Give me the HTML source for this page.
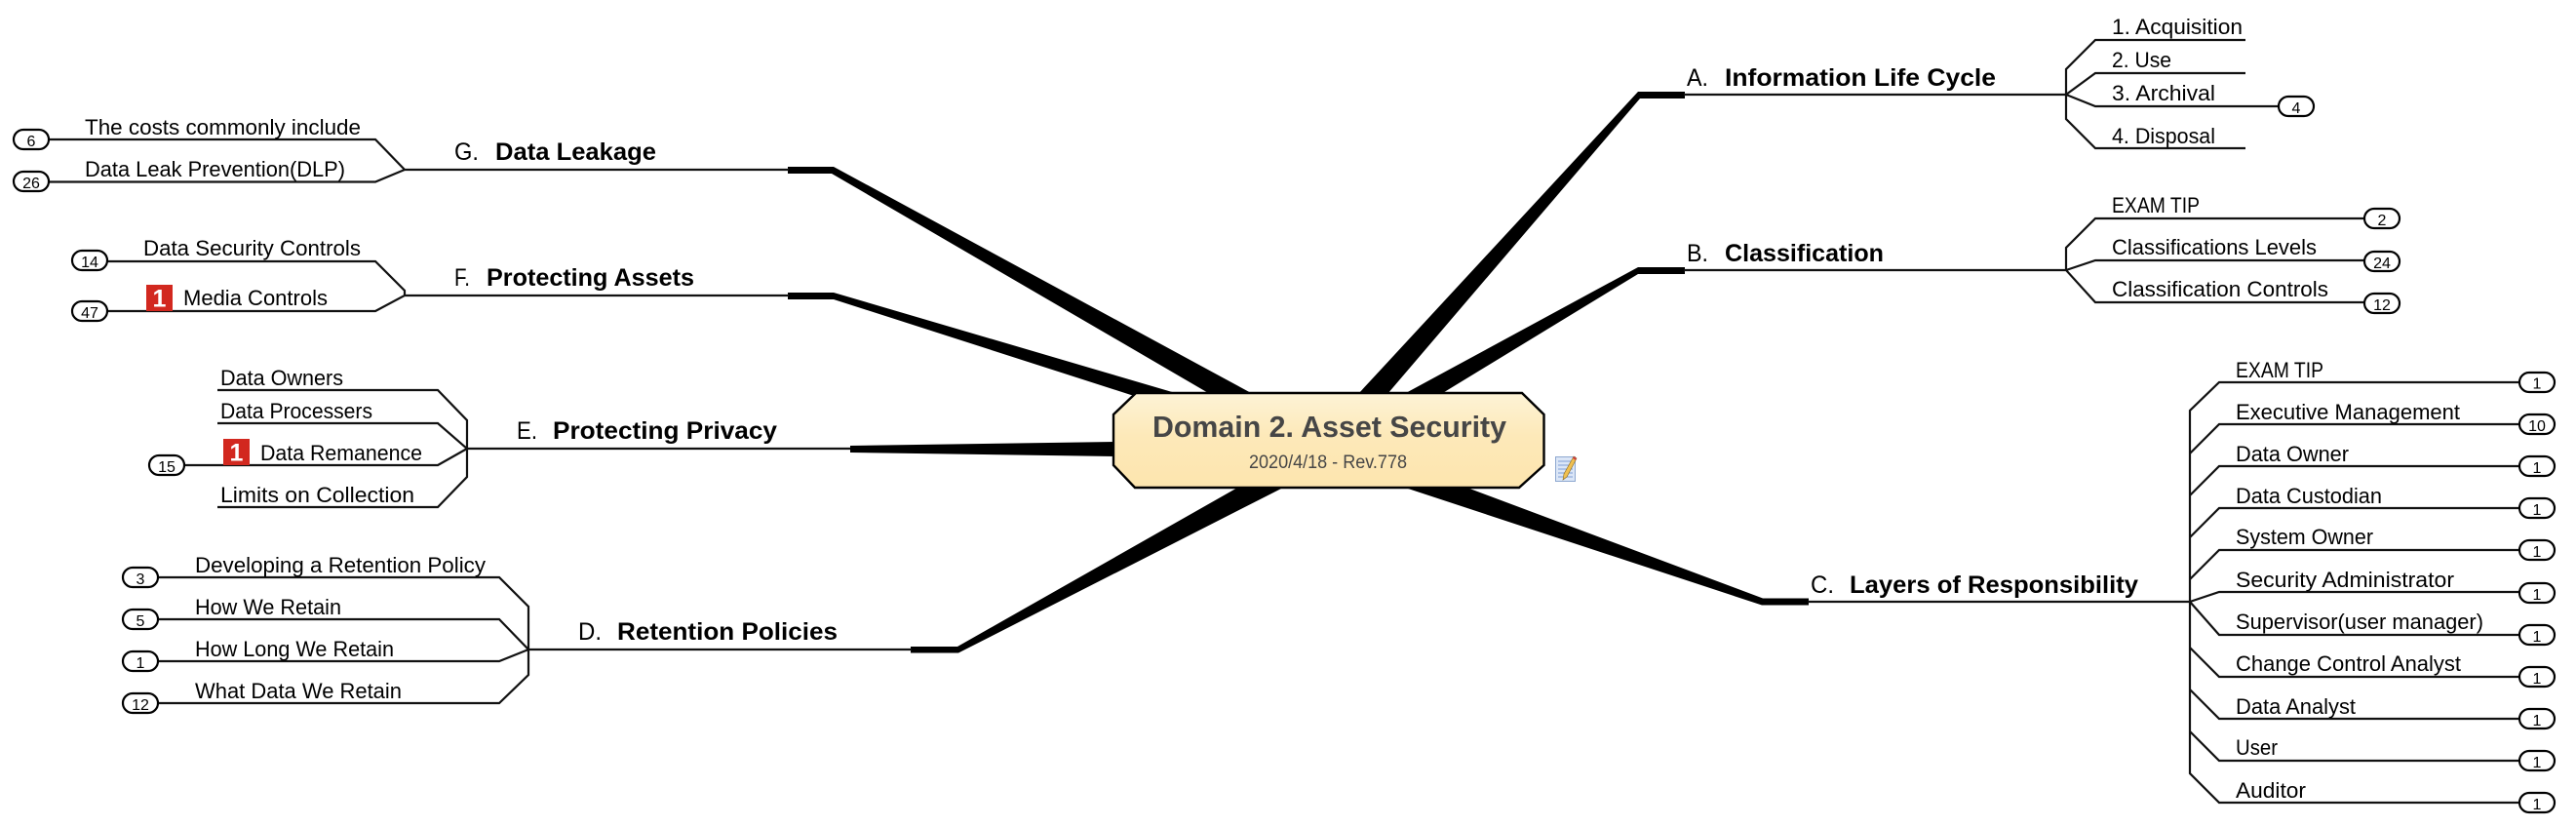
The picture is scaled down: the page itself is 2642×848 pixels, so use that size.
<!DOCTYPE html>
<html><head><meta charset="utf-8"><title>Domain 2. Asset Security</title>
<style>
html,body{margin:0;padding:0;background:#fff;width:2642px;height:848px;overflow:hidden}
svg{display:block}
text{font-family:"Liberation Sans",sans-serif;fill:#000}
.l{font-size:22px}
.t{font-size:25px}
.b{font-weight:bold}
.n{font-size:16px;text-anchor:middle}
.ln{fill:none;stroke:#111;stroke-width:2.2}
.w{fill:#000}
.p{fill:#fff;stroke:#000;stroke-width:2.2}
</style></head><body>
<svg width="2642" height="848" viewBox="0 0 2642 848" xmlns="http://www.w3.org/2000/svg">
<defs><linearGradient id="g" x1="0" y1="0" x2="0" y2="1"><stop offset="0" stop-color="#fdf3d6"/><stop offset="0.45" stop-color="#fde9b9"/><stop offset="1" stop-color="#fde5ae"/></linearGradient></defs>

<!-- Wedges -->
<polygon class="w" points="855,171 1285,404 1241,404 853,178 808,178 808,171"/>
<polygon class="w" points="855,300 1209,404 1160,405 855,307 808,307 808,300"/>
<polygon class="w" points="872,457 1144,453 1144,468 872,464"/>
<polygon class="w" points="982,663 1271,499 1318,499 983,669.5 934,669.5 934,663"/>
<polygon class="w" points="1438,499 1502,499 1808,613.5 1855,613.5 1855,620.5 1807,620.5"/>
<polygon class="w" points="1680,94 1728,94 1728,101 1682,101 1423,404 1393,404"/>
<polygon class="w" points="1680,274 1728,274 1728,281 1680,281 1478,404 1440,404"/>

<!-- Connectors -->
<path class="ln" d="M415,174H809M50,143H385L415,174L385,186.5H50"/>
<path class="ln" d="M415,303H809M109,268H385L415,298V303L385,319H109"/>
<path class="ln" d="M479,460H872M223,400H449L479,431V489L449,520H223M223,434H449L479,460L449,477H188"/>
<path class="ln" d="M542,666H935M162,592H512L542,622V692L512,721H162M162,635H512L542,666L512,678H162"/>
<path class="ln" d="M1727,97H2119M2303,41H2149L2119,71V122L2149,152H2303M2303,75H2149L2119,97L2149,109H2337"/>
<path class="ln" d="M1727,277H2119M2425,224H2149L2119,254V277L2149,310H2425M2425,267H2149L2119,277"/>
<path class="ln" d="M1854,617H2246M2584,392H2276L2246,421V793L2276,823H2584M2584,435H2276L2246,465M2584,478H2276L2246,508M2584,521H2276L2246,551M2584,564H2276L2246,594M2584,607H2276L2246,617L2276,651H2584M2584,694H2276L2246,664M2584,737H2276L2246,707M2584,780H2276L2246,750"/>

<!-- Center node -->
<polygon points="1165,403 1561,403 1583.5,425 1583.5,477 1558,500 1164,500 1142,477 1142,425" fill="url(#g)" stroke="#000" stroke-width="2.4"/>
<text x="1182" y="448" style="font-size:31px;font-weight:bold;fill:#464646" textLength="363" lengthAdjust="spacingAndGlyphs">Domain 2. Asset Security</text>
<text x="1281" y="480" style="font-size:19px;fill:#464646" textLength="162" lengthAdjust="spacingAndGlyphs">2020/4/18 - Rev.778</text>

<!-- Note icon -->
<rect x="1595.5" y="468.5" width="20" height="25" fill="#dbe6f7" stroke="#8ea8d0"/>
<path d="M1598,473H1613M1598,477H1613M1598,481H1613M1598,485H1613M1598,489H1613" stroke="#7f9fd6" stroke-width="1"/>
<polygon points="1614,468 1617,470 1607,489 1603,492 1604,486" fill="#f0c050" stroke="#8a6a20" stroke-width="0.6"/>
<polygon points="1614,468 1617,470 1616,472 1613,470" fill="#d04040"/>

<!-- Titles -->
<text class="t" x="466" y="164" textLength="25" lengthAdjust="spacingAndGlyphs">G.</text>
<text class="t b" x="508" y="164" textLength="165" lengthAdjust="spacingAndGlyphs">Data Leakage</text>
<text class="t" x="466" y="293" textLength="16" lengthAdjust="spacingAndGlyphs">F.</text>
<text class="t b" x="499" y="293" textLength="213" lengthAdjust="spacingAndGlyphs">Protecting Assets</text>
<text class="t" x="530" y="450" textLength="21" lengthAdjust="spacingAndGlyphs">E.</text>
<text class="t b" x="567" y="450" textLength="230" lengthAdjust="spacingAndGlyphs">Protecting Privacy</text>
<text class="t" x="593" y="656" textLength="24" lengthAdjust="spacingAndGlyphs">D.</text>
<text class="t b" x="633" y="656" textLength="226" lengthAdjust="spacingAndGlyphs">Retention Policies</text>
<text class="t" x="1730" y="88" textLength="22" lengthAdjust="spacingAndGlyphs">A.</text>
<text class="t b" x="1769" y="88" textLength="278" lengthAdjust="spacingAndGlyphs">Information Life Cycle</text>
<text class="t" x="1730" y="268" textLength="22" lengthAdjust="spacingAndGlyphs">B.</text>
<text class="t b" x="1769" y="268" textLength="163" lengthAdjust="spacingAndGlyphs">Classification</text>
<text class="t" x="1857" y="608" textLength="24" lengthAdjust="spacingAndGlyphs">C.</text>
<text class="t b" x="1897" y="608" textLength="296" lengthAdjust="spacingAndGlyphs">Layers of Responsibility</text>

<!-- Leaf labels -->
<text class="l" x="87" y="138" textLength="283" lengthAdjust="spacingAndGlyphs">The costs commonly include</text>
<text class="l" x="87" y="181" textLength="267" lengthAdjust="spacingAndGlyphs">Data Leak Prevention(DLP)</text>
<text class="l" x="147" y="262" textLength="223" lengthAdjust="spacingAndGlyphs">Data Security Controls</text>
<text class="l" x="188" y="313" textLength="148" lengthAdjust="spacingAndGlyphs">Media Controls</text>
<text class="l" x="226" y="395" textLength="126" lengthAdjust="spacingAndGlyphs">Data Owners</text>
<text class="l" x="226" y="429" textLength="156" lengthAdjust="spacingAndGlyphs">Data Processers</text>
<text class="l" x="267" y="472" textLength="166" lengthAdjust="spacingAndGlyphs">Data Remanence</text>
<text class="l" x="226" y="515" textLength="199" lengthAdjust="spacingAndGlyphs">Limits on Collection</text>
<text class="l" x="200" y="587" textLength="298" lengthAdjust="spacingAndGlyphs">Developing a Retention Policy</text>
<text class="l" x="200" y="630" textLength="150" lengthAdjust="spacingAndGlyphs">How We Retain</text>
<text class="l" x="200" y="673" textLength="204" lengthAdjust="spacingAndGlyphs">How Long We Retain</text>
<text class="l" x="200" y="716" textLength="212" lengthAdjust="spacingAndGlyphs">What Data We Retain</text>
<text class="l" x="2166" y="35" textLength="134" lengthAdjust="spacingAndGlyphs">1. Acquisition</text>
<text class="l" x="2166" y="69" textLength="61" lengthAdjust="spacingAndGlyphs">2. Use</text>
<text class="l" x="2166" y="103" textLength="106" lengthAdjust="spacingAndGlyphs">3. Archival</text>
<text class="l" x="2166" y="147" textLength="106" lengthAdjust="spacingAndGlyphs">4. Disposal</text>
<text class="l" x="2166" y="218" textLength="90" lengthAdjust="spacingAndGlyphs">EXAM TIP</text>
<text class="l" x="2166" y="261" textLength="210" lengthAdjust="spacingAndGlyphs">Classifications Levels</text>
<text class="l" x="2166" y="304" textLength="222" lengthAdjust="spacingAndGlyphs">Classification Controls</text>
<text class="l" x="2293" y="387" textLength="90" lengthAdjust="spacingAndGlyphs">EXAM TIP</text>
<text class="l" x="2293" y="430" textLength="230" lengthAdjust="spacingAndGlyphs">Executive Management</text>
<text class="l" x="2293" y="473" textLength="116" lengthAdjust="spacingAndGlyphs">Data Owner</text>
<text class="l" x="2293" y="516" textLength="150" lengthAdjust="spacingAndGlyphs">Data Custodian</text>
<text class="l" x="2293" y="558" textLength="141" lengthAdjust="spacingAndGlyphs">System Owner</text>
<text class="l" x="2293" y="602" textLength="224" lengthAdjust="spacingAndGlyphs">Security Administrator</text>
<text class="l" x="2293" y="645" textLength="254" lengthAdjust="spacingAndGlyphs">Supervisor(user manager)</text>
<text class="l" x="2293" y="688" textLength="231" lengthAdjust="spacingAndGlyphs">Change Control Analyst</text>
<text class="l" x="2293" y="732" textLength="123" lengthAdjust="spacingAndGlyphs">Data Analyst</text>
<text class="l" x="2293" y="774" textLength="43" lengthAdjust="spacingAndGlyphs">User</text>
<text class="l" x="2293" y="818" textLength="72" lengthAdjust="spacingAndGlyphs">Auditor</text>

<!-- Red priority icons -->
<rect x="150" y="292" width="27" height="27" fill="#d2281f"/>
<text x="163.5" y="314.5" style="font-size:25px;font-weight:bold;fill:#fff;text-anchor:middle">1</text>
<rect x="229" y="450" width="27" height="27" fill="#d2281f"/>
<text x="242.5" y="472.5" style="font-size:25px;font-weight:bold;fill:#fff;text-anchor:middle">1</text>

<!-- Pills -->
<rect class="p" x="14" y="133" width="36" height="20" rx="10"/><text class="n" x="32" y="150">6</text>
<rect class="p" x="14" y="176" width="36" height="20" rx="10"/><text class="n" x="32" y="193">26</text>
<rect class="p" x="74" y="257" width="36" height="20" rx="10"/><text class="n" x="92" y="274">14</text>
<rect class="p" x="74" y="309" width="36" height="20" rx="10"/><text class="n" x="92" y="326">47</text>
<rect class="p" x="153" y="467" width="36" height="20" rx="10"/><text class="n" x="171" y="484">15</text>
<rect class="p" x="126" y="582" width="36" height="20" rx="10"/><text class="n" x="144" y="599">3</text>
<rect class="p" x="126" y="625" width="36" height="20" rx="10"/><text class="n" x="144" y="642">5</text>
<rect class="p" x="126" y="668" width="36" height="20" rx="10"/><text class="n" x="144" y="685">1</text>
<rect class="p" x="126" y="711" width="36" height="20" rx="10"/><text class="n" x="144" y="728">12</text>
<rect class="p" x="2337" y="99" width="36" height="20" rx="10"/><text class="n" x="2355" y="116">4</text>
<rect class="p" x="2425" y="214" width="36" height="20" rx="10"/><text class="n" x="2443" y="231">2</text>
<rect class="p" x="2425" y="258" width="36" height="20" rx="10"/><text class="n" x="2443" y="275">24</text>
<rect class="p" x="2425" y="301" width="36" height="20" rx="10"/><text class="n" x="2443" y="318">12</text>
<rect class="p" x="2584" y="382" width="36" height="20" rx="10"/><text class="n" x="2602" y="398.5">1</text>
<rect class="p" x="2584" y="425" width="36" height="20" rx="10"/><text class="n" x="2602" y="442">10</text>
<rect class="p" x="2584" y="468" width="36" height="20" rx="10"/><text class="n" x="2602" y="485">1</text>
<rect class="p" x="2584" y="511" width="36" height="20" rx="10"/><text class="n" x="2602" y="528">1</text>
<rect class="p" x="2584" y="554" width="36" height="20" rx="10"/><text class="n" x="2602" y="571">1</text>
<rect class="p" x="2584" y="598" width="36" height="20" rx="10"/><text class="n" x="2602" y="615">1</text>
<rect class="p" x="2584" y="641" width="36" height="20" rx="10"/><text class="n" x="2602" y="658">1</text>
<rect class="p" x="2584" y="684" width="36" height="20" rx="10"/><text class="n" x="2602" y="701">1</text>
<rect class="p" x="2584" y="727" width="36" height="20" rx="10"/><text class="n" x="2602" y="744">1</text>
<rect class="p" x="2584" y="770" width="36" height="20" rx="10"/><text class="n" x="2602" y="787">1</text>
<rect class="p" x="2584" y="813" width="36" height="20" rx="10"/><text class="n" x="2602" y="830">1</text>
</svg>
</body></html>
